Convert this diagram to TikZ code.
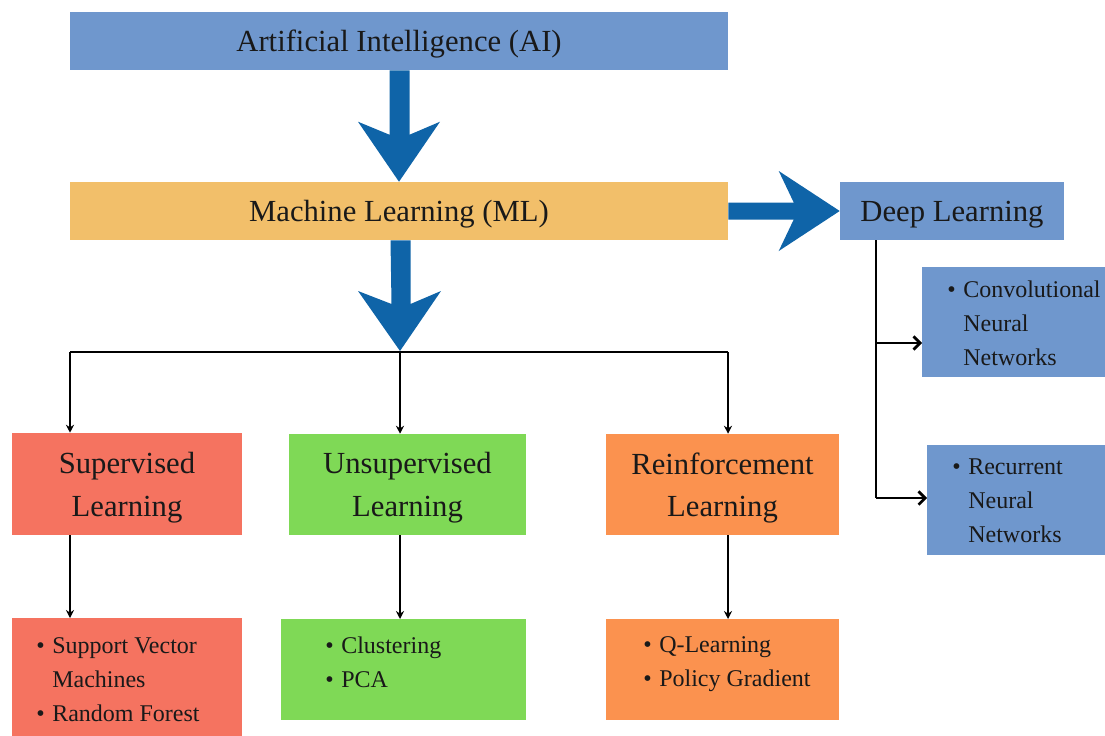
\documentclass[tikz,border=0pt]{standalone}
\usepackage{fontspec}
\setmainfont{Liberation Serif}
\usetikzlibrary{calc,arrows.meta}
\definecolor{boxblue}{RGB}{111,151,205}
\definecolor{mlorange}{RGB}{242,191,106}
\definecolor{arrowblue}{RGB}{15,100,168}
\definecolor{supred}{RGB}{245,115,96}
\definecolor{unsgreen}{RGB}{127,217,86}
\definecolor{reiorange}{RGB}{251,146,79}
\definecolor{txt}{RGB}{25,25,25}
\newcommand{\bul}{\makebox[12pt][l]{\textbullet}}
\newcommand{\ind}{\hspace*{12pt}}
\tikzset{
  box/.style={rectangle, draw=none, inner sep=0pt, text=txt},
  bigtext/.style={font=\fontsize{23}{32}\selectfont, align=center, text=txt, inner sep=0pt, yshift=-2.6pt},
  itemtext/.style={inner sep=0pt, anchor=north west, align=left, text=txt, font=\fontsize{18}{25.5}\selectfont},
  bigarrow/.style={fill=arrowblue, draw=none},
  thinline/.style={draw=black, line width=1.1pt},
  thinarrow/.style={thinline, -{Stealth[length=6pt,width=6pt]}},
  dlline/.style={draw=black, line width=2pt},
  dlarrow/.style={dlline, -{Straight Barb[length=5pt,width=10pt]}}
}
\begin{document}
\begin{tikzpicture}[x=0.75pt,y=-0.75pt]
\useasboundingbox (0,0) rectangle (1105,735);
% main boxes
\node[box, fill=boxblue, minimum width=493.5pt, minimum height=43.5pt,
  label={[bigtext]center:Artificial Intelligence (AI)}] (ai) at (399,41) {};
\node[box, fill=mlorange, minimum width=493.5pt, minimum height=43.5pt,
  label={[bigtext]center:Machine Learning (ML)}] (ml) at (399,211) {};
\node[box, fill=boxblue, minimum width=168pt, minimum height=43.5pt,
  label={[bigtext]center:Deep Learning}] (dl) at (952,211) {};
% second row
\node[box, fill=supred, minimum width=172.5pt, minimum height=76.5pt,
  label={[bigtext]center:{Supervised\\Learning}}] (sup) at (127,484) {};
\node[box, fill=unsgreen, minimum width=177.75pt, minimum height=75.75pt,
  label={[bigtext]center:{Unsupervised\\Learning}}] (uns) at (407.5,484.5) {};
\node[box, fill=reiorange, minimum width=174.75pt, minimum height=75.75pt,
  label={[bigtext]center:{Reinforcement\\Learning}}] (rei) at (722.5,484.5) {};
% bottom boxes
\node[box, fill=supred, minimum width=172.5pt, minimum height=95.25pt, anchor=north west] (svm) at (12,618) {};
\node[box, fill=unsgreen, minimum width=183.75pt, minimum height=75.75pt, anchor=north west] (clu) at (281,619) {};
\node[box, fill=reiorange, minimum width=174.75pt, minimum height=75.75pt, anchor=north west] (qle) at (606,619) {};
% deep learning boxes
\node[box, fill=boxblue, minimum width=150pt, minimum height=82.5pt, anchor=north west] (cnn) at (922,267) {};
\node[box, fill=boxblue, minimum width=150pt, minimum height=82.5pt, anchor=north west] (rnn) at (927,445) {};
% texts
\node[itemtext] (svmt) at (36,637.5) {\bul Support Vector\\\ind Machines\\\bul Random Forest};
\node[itemtext] (clut) at (325,637) {\bul Clustering\\\bul PCA};
\node[itemtext] (qlet) at (643,636.5) {\bul Q-Learning\\\bul Policy Gradient};
\node[itemtext] (cnnt) at (947,280.5) {\bul Convolutional\\\ind Neural\\\ind Networks};
\node[itemtext] (rnnt) at (952,459) {\bul Recurrent\\\ind Neural\\\ind Networks};
% big block arrows
\fill[bigarrow] ($(ai.south)+(-9.5,0)$) -- ($(ml.north)+(-9.5,-47)$) -- ($(ml.north)+(-41,-60)$) -- (ml.north)
  -- ($(ml.north)+(41,-60)$) -- ($(ml.north)+(10.5,-47)$) -- ($(ai.south)+(10.5,0)$) -- cycle;
\coordinate (split) at (400,351);
\fill[bigarrow] ($(ml.south)+(-8.5,0)$) -- ($(split)+(-8.5,-47)$) -- ($(split)+(-42,-60)$) -- (split)
  -- ($(split)+(41,-60)$) -- ($(split)+(10.5,-47)$) -- ($(ml.south)+(11.5,0)$) -- cycle;
\fill[bigarrow] ($(ml.east)+(0,-8.5)$) -- ($(dl.west)+(-46,-8.5)$) -- ($(dl.west)+(-61,-40)$) -- (dl.west)
  -- ($(dl.west)+(-61,40)$) -- ($(dl.west)+(-46,8.5)$) -- ($(ml.east)+(0,8.5)$) -- cycle;
% bus to learning types
\coordinate (busL) at (70,352);
\coordinate (busR) at (728,352);
\coordinate (busM) at (400,352);
\draw[thinline] (busL) -- (busR);
\draw[thinarrow] (busL) -- (busL |- sup.north);
\draw[thinarrow] (busM) -- (busM |- uns.north);
\draw[thinarrow] (busR) -- (busR |- rei.north);
\draw[thinarrow] (sup.south -| busL) -- (svm.north -| busL);
\draw[thinarrow] (uns.south -| busM) -- (clu.north -| busM);
\draw[thinarrow] (rei.south -| busR) -- (qle.north -| busR);
% deep learning branches
\coordinate (b1) at (876,343);
\coordinate (b2) at (876,498);
\draw[dlline] (dl.south -| b1) -- (b2);
\draw[dlarrow] (b1) -- (b1 -| cnn.west);
\draw[dlarrow] (b2) -- (b2 -| rnn.west);
\end{tikzpicture}
\end{document}
